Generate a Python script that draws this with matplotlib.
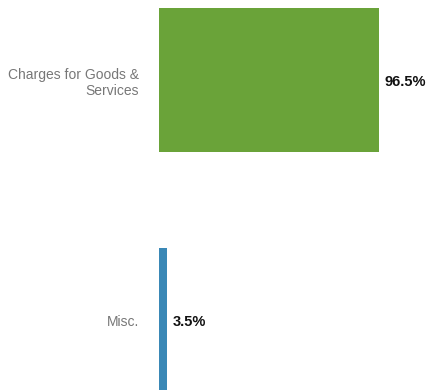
import matplotlib
matplotlib.use("Agg")
import matplotlib.pyplot as plt

categories = ["Charges for Goods &\nServices", "Misc."]
values = [96.5, 3.5]
value_labels = ["96.5%", "3.5%"]
colors = ["#6aa339", "#3a88b6"]

plt.rcParams['font.family'] = ['Liberation Sans', 'DejaVu Sans']

fig = plt.figure(figsize=(4.26, 3.90), dpi=100)
ax = fig.add_axes([159/426, 0, 1 - 159/426, 1])
pos = list(range(len(categories)))
ax.barh(pos, values, height=0.604, color=colors)
ax.set_xlim(0, 96.5 * (426 - 159) / 220)
ax.set_ylim(1 + 70/240, -80/240)
for s in ax.spines.values():
    s.set_visible(False)
ax.set_xticks([])
ax.set_yticks(pos)
ax.set_yticklabels(categories, color="#777777", fontsize=10)
ax.tick_params(axis='y', length=0, pad=14.4)
for p, v, t in zip(pos, values, value_labels):
    ax.annotate(t, (v, p), xytext=(4.3, -1.4), textcoords='offset points',
                va='center', ha='left', fontsize=10.5, fontweight='bold', color='#111111')
fig.savefig("out.png", dpi=100)
